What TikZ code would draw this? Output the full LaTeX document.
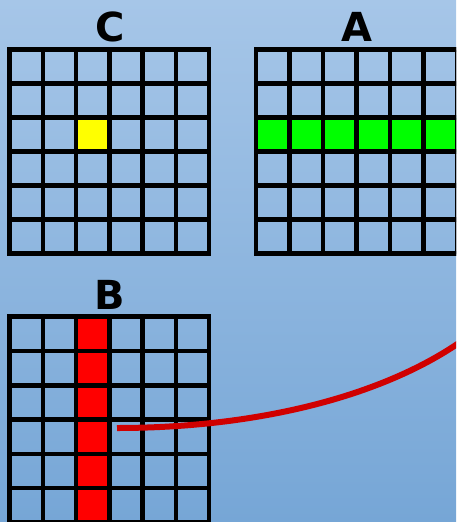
\documentclass[tikz,border=0pt]{standalone}
\usepackage{fontspec}
\newfontfamily\labfont{DejaVu Sans}
\definecolor{bgtop}{RGB}{166,198,232}
\definecolor{bgbot}{RGB}{118,166,214}
\definecolor{cellyellow}{RGB}{255,255,0}
\definecolor{cellgreen}{RGB}{0,255,0}
\definecolor{cellred}{RGB}{255,0,0}
\definecolor{linkred}{RGB}{208,0,0}
\begin{document}
\begin{tikzpicture}[x=1pt,y=-1pt,
  gridline/.style={line width=4.5pt, black, line join=miter},
  lab/.style={font=\labfont\bfseries\fontsize{40}{40}\selectfont, inner sep=0pt, anchor=base},
  link/.style={line width=6pt, draw=linkred}]
\useasboundingbox (0,0) rectangle (456,522);
\clip (0,0) rectangle (456,522);
\shade[top color=bgtop, bottom color=bgbot] (0,0) rectangle (456,522);
% grid C
\begin{scope}[shift={(9.5,49.5)}, x=33.25pt, y=-34pt]
  \fill[cellyellow] (2,2) rectangle (3,3);
  \foreach \i in {0,...,6} {
    \draw[gridline] (\i,0) -- (\i,6);
    \draw[gridline] (0,\i) -- (6,\i);
  }
  \draw[gridline] (0,0) rectangle (6,6);
\end{scope}
% grid A
\begin{scope}[shift={(256,49.5)}, x=33.5pt, y=-34pt]
  \fill[cellgreen] (0,2) rectangle (6,3);
  \foreach \i in {0,...,6} {
    \draw[gridline] (\i,0) -- (\i,6);
    \draw[gridline] (0,\i) -- (6,\i);
  }
  \draw[gridline] (0,0) rectangle (6,6);
\end{scope}
% grid B
\begin{scope}[shift={(9.5,316.7)}, x=33.25pt, y=-34.3pt]
  \fill[cellred] (2,0) rectangle (3,6);
  \foreach \i in {0,...,6} {
    \draw[gridline] (\i,0) -- (\i,6);
    \draw[gridline] (0,\i) -- (6,\i);
  }
  \draw[gridline] (0,0) rectangle (6,6);
\end{scope}
\node[lab] (labC) at (110,41.5) {C};
\node[lab] (labA) at (357,41.5) {A};
\node[lab] (labB) at (110,309) {B};
\coordinate (linkstart) at (117,428);
\coordinate (linkend) at (470,335);
\draw[link] (linkstart) .. controls (260,428) and (390,395) .. (linkend);
\end{tikzpicture}
\end{document}
